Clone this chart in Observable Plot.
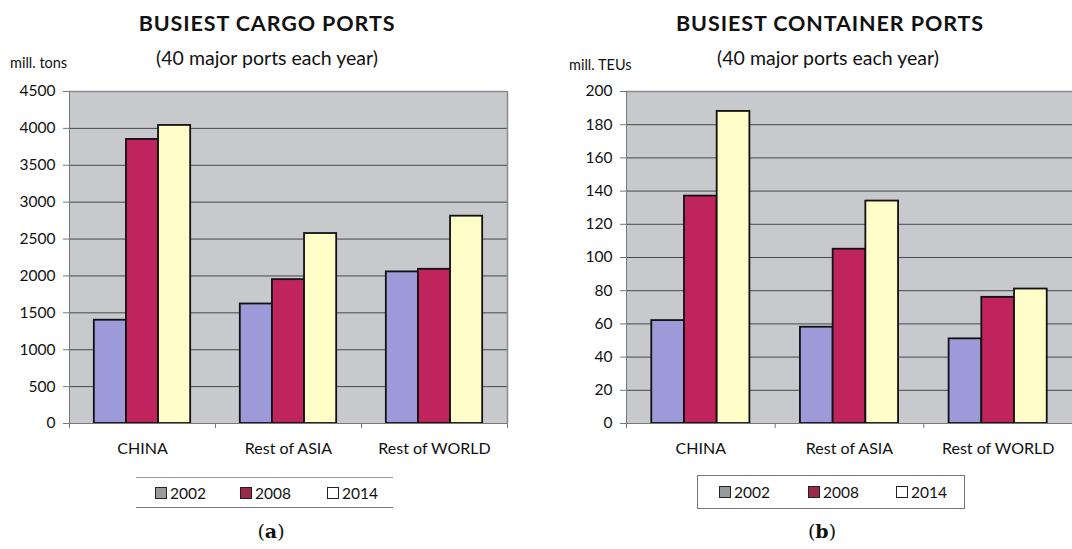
<!DOCTYPE html>
<html><head><meta charset="utf-8">
<script src="https://cdn.jsdelivr.net/npm/d3@7"></script>
<script src="https://cdn.jsdelivr.net/npm/@observablehq/plot@0.6"></script>
<style>
html,body{margin:0;padding:0;background:#fff;}
body{width:1072px;height:549px;overflow:hidden;position:relative;font-family:Lato,"Open Sans",sans-serif;color:#111;}
.t{position:absolute;white-space:nowrap;transform:translate(-50%,-50%);}
.title{font-weight:700;font-size:21.5px;letter-spacing:0.9px;}
.sub{font-size:19.5px;}
.unit{position:absolute;white-space:nowrap;font-size:14.5px;transform:translateY(-50%);}
.chart{position:absolute;top:80px;}
.legend{position:absolute;display:flex;align-items:center;font-size:15.5px;box-sizing:border-box;}
.legend .it{position:absolute;display:flex;align-items:center;top:50%;transform:translateY(-50%);}
.legend .sw{width:10px;height:10px;border:1.5px solid #222;margin-right:3px;}
.cap{position:absolute;transform:translate(-50%,-50%);font-family:"DejaVu Serif","Liberation Serif",serif;font-size:19px;}
</style></head><body>
<script>
// ---- data ----
const categories = ["CHINA", "Rest of ASIA", "Rest of WORLD"];
const years = [2002, 2008, 2014];
const cargo2002 = [1400, 1620, 2055];
const cargo2008 = [3850, 1950, 2090];
const cargo2014 = [4040, 2575, 2810];
const teu2002 = [62, 58, 51];
const teu2008 = [137, 105, 76];
const teu2014 = [188, 134, 81];
const cargoTicks = [0, 500, 1000, 1500, 2000, 2500, 3000, 3500, 4000, 4500];
const teuTicks = [0, 20, 40, 60, 80, 100, 120, 140, 160, 180, 200];
const barColors = ["#9c9ad8", "#c0245c", "#fffdc8"];
const legendColors = ["#9a9a9a", "#9a2a4a", "#ffffff"];

function rows(series) {
  const out = [];
  categories.forEach((c, i) => {
    series.forEach((s, j) => {
      out.push({cat: c, i, year: years[j], j, value: s[i]});
    });
  });
  return out;
}

function makeChart({series, ticks, left, width, marginLeft, marginRight, showRight}) {
  const data = rows(series);
  const yMax = ticks[ticks.length - 1];
  const marks = [
    Plot.frame({fill: "#c8c9cc", stroke: null}),
    Plot.gridY(ticks.slice(1, -1), {stroke: "#3a3a3a", strokeOpacity: 0.9, strokeWidth: 1}),
    Plot.ruleY([yMax], {stroke: "#8a8a8a", strokeWidth: 1.5}),
    Plot.rectY(data, {
      x1: d => d.i + 0.17 + d.j * 0.22,
      x2: d => d.i + 0.17 + (d.j + 1) * 0.22,
      y1: 0,
      y2: "value",
      fill: d => barColors[d.j],
      stroke: "#111",
      strokeWidth: 1.8
    }),
    Plot.ruleX([0], {stroke: "#777", strokeWidth: 1}),
    Plot.ruleY([0], {stroke: "#777", strokeWidth: 1}),
    Plot.axisY(ticks, {label: null, tickSize: 6, tickPadding: 8, fontSize: 15.5, stroke: "#777", fill: "#111", tickFormat: d => String(d)}),
    Plot.axisX([0, 1, 2, 3], {label: null, tickSize: 5, tickFormat: () => "", stroke: "#777"}),
    Plot.axisX([0.5, 1.5, 2.5], {label: null, tickSize: 0, tickPadding: 19, fontSize: 16, fill: "#111", tickFormat: d => categories[Math.floor(d)]})
  ];
  if (showRight) marks.splice(3, 0, Plot.ruleX([3], {stroke: "#8a8a8a", strokeWidth: 1.5}));
  const svg = Plot.plot({
    width, height: 400,
    marginLeft, marginRight, marginTop: 11, marginBottom: 57,
    style: {fontFamily: "Lato, sans-serif", fontSize: "15px", background: "transparent", overflow: "visible"},
    x: {domain: [0, 3], axis: null},
    y: {domain: [0, yMax], axis: null},
    marks
  });
  const wrap = document.createElement("div");
  wrap.className = "chart";
  wrap.style.left = left + "px";
  wrap.appendChild(svg);
  document.body.appendChild(wrap);
}

function addText(cls, txt, x, y) {
  const d = document.createElement("div");
  d.className = cls;
  d.textContent = txt;
  d.style.left = x + "px";
  d.style.top = y + "px";
  document.body.appendChild(d);
  return d;
}

function addLegend(x, y, w, h, full, itemXs) {
  const lg = document.createElement("div");
  lg.className = "legend";
  lg.style.left = x + "px"; lg.style.top = y + "px";
  lg.style.width = w + "px"; lg.style.height = h + "px";
  if (full) lg.style.border = "1px solid #777";
  else { lg.style.borderTop = "1px solid #999"; lg.style.borderBottom = "1px solid #777"; }
  years.forEach((yr, j) => {
    const it = document.createElement("div");
    it.className = "it";
    it.style.left = itemXs[j] + "px";
    const sw = document.createElement("div");
    sw.className = "sw";
    sw.style.background = legendColors[j];
    const tx = document.createElement("span");
    tx.textContent = yr;
    it.appendChild(sw); it.appendChild(tx);
    lg.appendChild(it);
  });
  document.body.appendChild(lg);
}

makeChart({series: [cargo2002, cargo2008, cargo2014], ticks: cargoTicks, left: 0, width: 540, marginLeft: 69, marginRight: 33, showRight: true});
makeChart({series: [teu2002, teu2008, teu2014], ticks: teuTicks, left: 540, width: 532, marginLeft: 86, marginRight: 0, showRight: false});

addText("t title", "BUSIEST CARGO PORTS", 267, 23);
addText("t sub", "(40 major ports each year)", 267, 57);
addText("unit", "mill. tons", 10, 62);
addText("t title", "BUSIEST CONTAINER PORTS", 830, 23);
addText("t sub", "(40 major ports each year)", 828, 57);
addText("unit", "mill. TEUs", 569, 64);

addLegend(136, 477, 257, 31, false, [19, 104, 191]);
addLegend(697, 475, 268, 34, true, [21, 110, 198]);

const ca = addText("cap", "", 271, 531); ca.innerHTML = "(<b>a</b>)";
const cb = addText("cap", "", 822, 531); cb.innerHTML = "(<b>b</b>)";
</script>
</body></html>
